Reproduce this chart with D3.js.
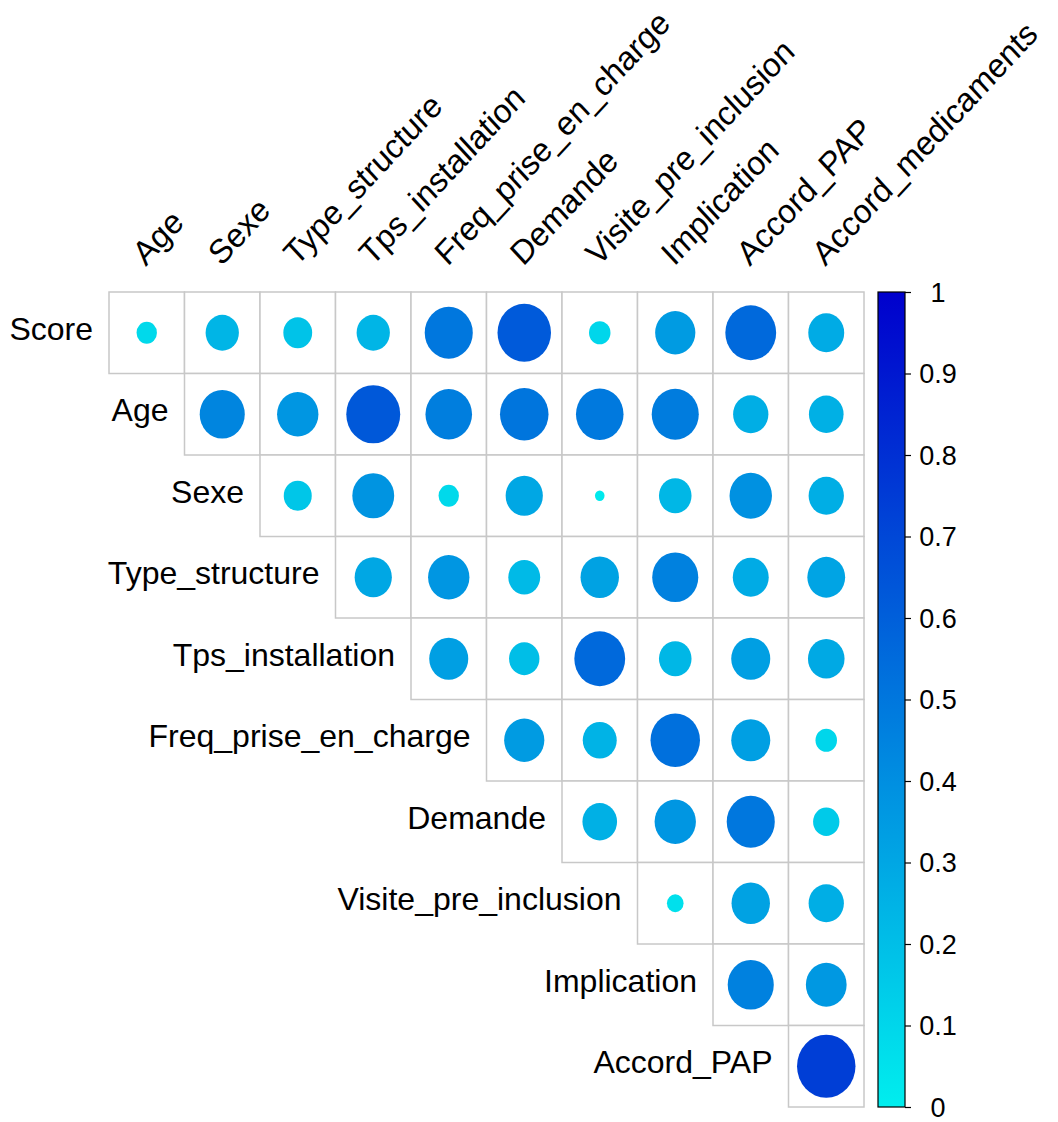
<!DOCTYPE html>
<html>
<head>
<meta charset="utf-8">
<script src="https://d3js.org/d3.v7.min.js"></script>
<style>
    html, body { margin: 0; padding: 0; background: #ffffff; }
    text { font-family: "Liberation Sans", Arial, sans-serif; fill: #000; }
</style>
</head>
<body>
<svg id="corr" width="1058" height="1122"></svg>
<script>
// variables (rows of the upper triangle, then columns)
const rowNames = ["Score", "Age", "Sexe", "Type_structure", "Tps_installation",
    "Freq_prise_en_charge", "Demande", "Visite_pre_inclusion", "Implication", "Accord_PAP"];
const colNames = ["Age", "Sexe", "Type_structure", "Tps_installation", "Freq_prise_en_charge",
    "Demande", "Visite_pre_inclusion", "Implication", "Accord_PAP", "Accord_medicaments"];

// correlation values, row i starts at column i
const rScore     = [0.09, 0.24, 0.18, 0.24, 0.50, 0.62, 0.10, 0.35, 0.56, 0.28];
const rAge       = [0.44, 0.37, 0.63, 0.47, 0.51, 0.49, 0.48, 0.27, 0.26];
const rSexe      = [0.17, 0.38, 0.09, 0.30, 0.02, 0.23, 0.39, 0.27];
const rType      = [0.30, 0.37, 0.22, 0.32, 0.46, 0.28, 0.31];
const rTps       = [0.33, 0.20, 0.56, 0.23, 0.33, 0.29];
const rFreq      = [0.35, 0.25, 0.53, 0.33, 0.10];
const rDemande   = [0.26, 0.37, 0.50, 0.15];
const rVisite    = [0.06, 0.32, 0.27];
const rImpl      = [0.46, 0.36];
const rPAP       = [0.74];
const rowValues = [rScore, rAge, rSexe, rType, rTps, rFreq, rDemande, rVisite, rImpl, rPAP];

const legendTicks = [0, 0.1, 0.2, 0.3, 0.4, 0.5, 0.6, 0.7, 0.8, 0.9, 1];

const svg = d3.select("svg#corr");
const gridLeft = 109, gridRight = 864, gridTop = 292, gridBottom = 1107;

const x = d3.scaleBand().domain(colNames).range([gridLeft, gridRight]);
const y = d3.scaleBand().domain(rowNames).range([gridTop, gridBottom]);
const color = d3.scaleLinear().domain([0, 1]).range(["#00eeee", "#0000cd"]);
const maxR = 0.45;
// plot is a bit taller than wide, so the rotated labels get stretched too
const stretch = y.bandwidth() / x.bandwidth();

// flatten into cells
let cells = [];
rowValues.forEach((vals, i) => {
    vals.forEach((v, k) => {
        cells.push({ row: rowNames[i], col: colNames[i + k], value: v });
    });
});

const grid = svg.append("g");

grid.selectAll("rect.cell").data(cells)
    .join("rect")
    .attr("class", "cell")
    .attr("x", d => x(d.col))
    .attr("y", d => y(d.row))
    .attr("width", x.bandwidth())
    .attr("height", y.bandwidth())
    .attr("fill", "white")
    .attr("stroke", "#c8c8c8")
    .attr("stroke-width", 1.5);

grid.selectAll("ellipse").data(cells)
    .join("ellipse")
    .attr("cx", d => x(d.col) + x.bandwidth() / 2)
    .attr("cy", d => y(d.row) + y.bandwidth() / 2)
    .attr("rx", d => maxR * x.bandwidth() * Math.sqrt(Math.abs(d.value)))
    .attr("ry", d => maxR * y.bandwidth() * Math.sqrt(Math.abs(d.value)))
    .attr("fill", d => color(d.value));

// row labels, right aligned before first cell
svg.selectAll("text.rowlab").data(rowNames)
    .join("text")
    .attr("class", "rowlab")
    .attr("x", (d, i) => x(colNames[i]) - 16)
    .attr("y", d => y(d) + y.bandwidth() / 2 + 7)
    .attr("text-anchor", "end")
    .style("font-size", "32px")
    .text(d => d);

// column labels, rotated
svg.selectAll("text.collab").data(colNames)
    .join("text")
    .attr("class", "collab")
    .attr("transform", d => `translate(${x(d) + x.bandwidth() / 2 - 1},${gridTop - 25}) scale(1,${stretch}) rotate(-45)`)
    .style("font-size", "31.5px")
    .text(d => d);

// colour legend
const legX = 878, legW = 27;
const legScale = d3.scaleLinear().domain([0, 1]).range([gridBottom, gridTop]);

const defs = svg.append("defs");
const grad = defs.append("linearGradient")
    .attr("id", "legGrad")
    .attr("x1", 0).attr("x2", 0).attr("y1", 1).attr("y2", 0);
grad.append("stop").attr("offset", "0%").attr("stop-color", color(0));
grad.append("stop").attr("offset", "100%").attr("stop-color", color(1));

svg.append("rect")
    .attr("x", legX)
    .attr("y", legScale(1))
    .attr("width", legW)
    .attr("height", legScale(0) - legScale(1))
    .attr("fill", "url(#legGrad)")
    .attr("stroke", "#000")
    .attr("stroke-width", 1.2);

const legAxis = d3.axisRight(legScale)
    .tickValues(legendTicks)
    .tickSize(6)
    .tickFormat(d => d3.format("~g")(d));

const axisG = svg.append("g")
    .attr("transform", `translate(${legX + legW},0)`)
    .call(legAxis);
axisG.select(".domain").remove();
axisG.selectAll(".tick line").attr("stroke", "#000").attr("stroke-width", 1.2);
axisG.selectAll(".tick text")
    .attr("x", 33)
    .attr("text-anchor", "middle")
    .attr("dy", "0.35em")
    .style("font-size", "27px")
    .style("font-family", "'Liberation Sans', Arial, sans-serif")
    .attr("fill", "#000");
</script>
</body>
</html>
